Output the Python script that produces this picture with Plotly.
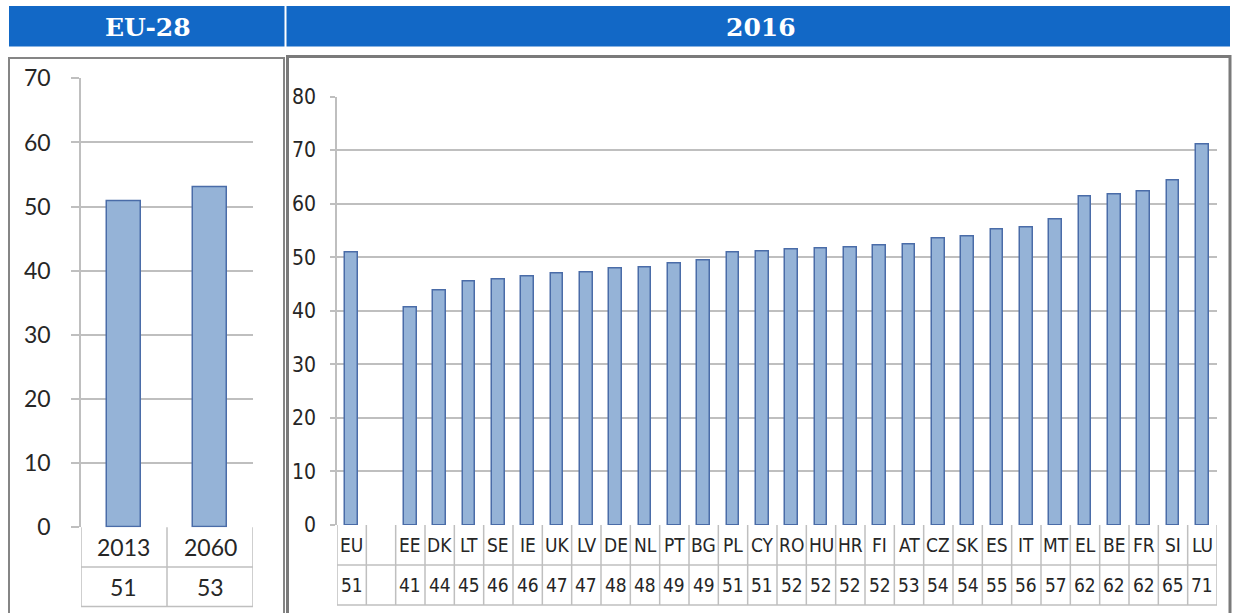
import plotly.graph_objects as go

W, H = 1234, 613


def px(x):
    return x / W


def py(y):
    return 1 - y / H


# ---------------- data ----------------
eu_years = ["2013", "2060"]
eu_values = [50.8, 53.0]
eu_labels = ["51", "53"]

countries = ["EU", "", "EE", "DK", "LT", "SE", "IE", "UK", "LV", "DE", "NL", "PT",
             "BG", "PL", "CY", "RO", "HU", "HR", "FI", "AT", "CZ", "SK", "ES", "IT",
             "MT", "EL", "BE", "FR", "SI", "LU"]
values = [50.8, None, 40.7, 43.8, 45.4, 45.9, 46.4, 46.9, 47.2, 47.9, 48.1, 48.8,
          49.3, 50.8, 51.0, 51.5, 51.6, 51.8, 52.1, 52.4, 53.5, 53.9, 55.2, 55.6,
          57.1, 61.4, 61.7, 62.2, 64.4, 71.1]
value_labels = ["51", "", "41", "44", "45", "46", "46", "47", "47", "48", "48", "49",
                "49", "51", "51", "52", "52", "52", "52", "53", "54", "54", "55", "56",
                "57", "62", "62", "62", "65", "71"]

left_title = "EU-28"
right_title = "2016"

# ---------------- styles ----------------
FILL = "#95B3D7"
EDGE = "#4A6CA8"
GRID = "#BFBFBF"
HEADER = "#1268C6"
TEXT = "#262626"
WIDE_FONT = "Lato, Carlito, sans-serif"
NARROW_FONT = "Liberation Sans Narrow, DejaVu Sans Condensed, Lato, sans-serif"

fig = go.Figure()

fig.add_trace(go.Bar(
    x=list(range(len(eu_years))), y=eu_values, xaxis="x", yaxis="y",
    width=0.4, marker=dict(color=FILL, line=dict(color=EDGE, width=1.5)),
    hovertext=eu_years, hoverinfo="text+y", showlegend=False,
))
fig.add_trace(go.Bar(
    x=list(range(len(countries))), y=values, xaxis="x2", yaxis="y2",
    width=0.44, marker=dict(color=FILL, line=dict(color=EDGE, width=1.5)),
    hovertext=countries, hoverinfo="text+y", showlegend=False,
))

shapes = []
annotations = []

# panel frames
shapes.append(dict(type="rect", xref="paper", yref="paper",
                   x0=px(9), x1=px(284), y0=py(630), y1=py(58),
                   line=dict(color="#858585", width=2), layer="below"))
shapes.append(dict(type="rect", xref="paper", yref="paper",
                   x0=px(287.5), x1=px(1230), y0=py(630), y1=py(56.5),
                   line=dict(color="#7A7A7A", width=3), layer="below"))

# header bars
shapes.append(dict(type="rect", xref="paper", yref="paper",
                   x0=px(9), x1=px(284.5), y0=py(46.5), y1=py(6),
                   fillcolor=HEADER, line=dict(width=0), layer="below"))
shapes.append(dict(type="rect", xref="paper", yref="paper",
                   x0=px(286.5), x1=px(1230), y0=py(46.5), y1=py(6),
                   fillcolor=HEADER, line=dict(width=0), layer="below"))
for title, cx in ((left_title, 148), (right_title, 761)):
    annotations.append(dict(text="<b>%s</b>" % title, xref="paper", yref="paper",
                            x=px(cx), y=py(27), xanchor="center", yanchor="middle",
                            showarrow=False,
                            font=dict(family="DejaVu Serif, serif", size=25, color="white")))


def add_table(xref, cats, labels, y_top, y_mid, y_bot, key_left, font, size):
    n = len(cats)
    line = dict(color=GRID, width=1.5)
    for i in range(n + 1):
        shapes.append(dict(type="line", xref=xref, yref="paper",
                           x0=i - 0.5, x1=i - 0.5, y0=py(y_top), y1=py(y_bot), line=line))
    shapes.append(dict(type="line", xref=xref, yref="paper",
                       x0=key_left, x1=key_left, y0=py(y_mid), y1=py(y_bot), line=line))
    for yy in (y_mid, y_bot):
        shapes.append(dict(type="line", xref=xref, yref="paper",
                           x0=key_left, x1=n - 0.5, y0=py(yy), y1=py(yy), line=line))
    for i in range(n):
        for txt, yc in ((cats[i], (y_top + y_mid) / 2), (labels[i], (y_mid + y_bot) / 2)):
            annotations.append(dict(text=txt, xref=xref, yref="paper", x=i,
                                    y=py(yc), xanchor="center", yanchor="middle",
                                    showarrow=False,
                                    font=dict(family=font, size=size, color=TEXT)))


add_table("x", eu_years, eu_labels, 527.3, 567, 606.5, -0.63, WIDE_FONT, 23)
add_table("x2", countries, value_labels, 525, 565, 605, -0.81, NARROW_FONT, 19)

axis_common = dict(showgrid=False, zeroline=False, showticklabels=False,
                   fixedrange=True, ticks="")
yaxis_common = dict(showgrid=True, gridcolor=GRID, gridwidth=1.5, zeroline=False,
                    showline=True, linecolor=GRID, linewidth=1.5, ticks="outside",
                    tickcolor=GRID, tickwidth=1.5, dtick=10, fixedrange=True)

fig.update_layout(
    width=W, height=H, autosize=False,
    margin=dict(l=0, r=0, t=0, b=0, pad=0, autoexpand=False),
    paper_bgcolor="white", plot_bgcolor="rgba(0,0,0,0)",
    xaxis=dict(domain=[px(81), px(253)], range=[-0.5, 1.5], anchor="y", **axis_common),
    yaxis=dict(domain=[py(527.3), py(78.3)], range=[0, 70], anchor="x",
               ticklen=8, ticklabelstandoff=16,
               tickfont=dict(family=WIDE_FONT, size=23, color="#262626"), **yaxis_common),
    xaxis2=dict(domain=[px(337), px(1217)], range=[-0.5, 29.5], anchor="y2", **axis_common),
    yaxis2=dict(domain=[py(525), py(96.5)], range=[0, 80], anchor="x2",
                ticklen=5, ticklabelstandoff=10,
                tickfont=dict(family=NARROW_FONT, size=21, color="#262626"), **yaxis_common),
    shapes=shapes,
    annotations=annotations,
    bargap=0,
)

fig.write_html("out.html", config={"displayModeBar": False},
               post_script="document.body.style.margin='0';document.body.style.overflow='hidden';")
